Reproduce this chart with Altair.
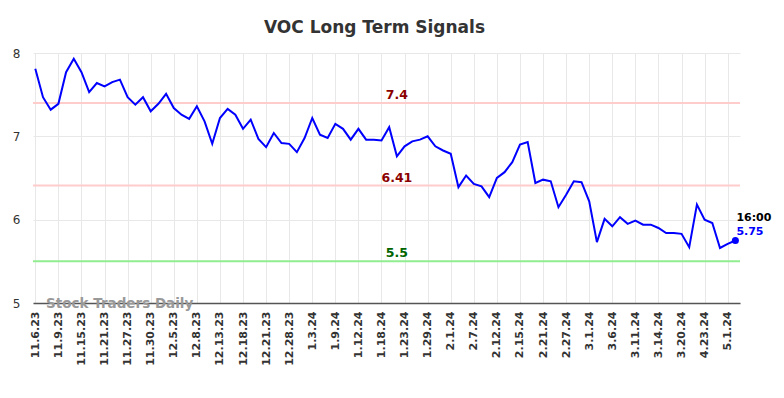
import altair as alt
import pandas as pd

tick_labels = ["11.6.23", "11.9.23", "11.15.23", "11.21.23", "11.27.23", "11.30.23",
               "12.5.23", "12.8.23", "12.13.23", "12.18.23", "12.21.23", "12.28.23",
               "1.3.24", "1.9.24", "1.12.24", "1.18.24", "1.23.24", "1.29.24",
               "2.1.24", "2.7.24", "2.12.24", "2.15.24", "2.21.24", "2.27.24",
               "3.1.24", "3.6.24", "3.11.24", "3.14.24", "3.20.24", "4.23.24", "5.1.24"]

prices = [7.81, 7.47, 7.32, 7.39, 7.77, 7.93, 7.77, 7.53, 7.64, 7.60,
          7.65, 7.68, 7.47, 7.38, 7.47, 7.30, 7.39, 7.51, 7.34, 7.26,
          7.21, 7.36, 7.18, 6.91, 7.22, 7.33, 7.26, 7.09, 7.20, 6.97,
          6.87, 7.04, 6.92, 6.91, 6.81, 6.98, 7.22, 7.02, 6.98, 7.15,
          7.09, 6.96, 7.09, 6.96, 6.96, 6.95, 7.11, 6.76, 6.88, 6.94,
          6.96, 7.00, 6.88, 6.83, 6.79, 6.39, 6.53, 6.43, 6.40, 6.27,
          6.50, 6.57, 6.69, 6.90, 6.93, 6.44, 6.48, 6.46, 6.15, 6.30,
          6.46, 6.45, 6.22, 5.73, 6.01, 5.92, 6.03, 5.95, 5.99, 5.94,
          5.94, 5.90, 5.84, 5.84, 5.83, 5.67, 6.18, 6.00, 5.96, 5.66,
          5.71, 5.75]

signal_values = [7.4, 6.41, 5.5]
signal_labels = ["7.4", "6.41", "5.5"]
signal_line_colors = ["#ffcccc", "#ffcccc", "#90ee90"]
signal_text_colors = ["#8b0000", "#8b0000", "#006400"]

last_time = "16:00"

df = pd.DataFrame({"i": list(range(len(prices))), "price": prices})
sig = pd.DataFrame({"i": [47] * len(signal_values), "price": signal_values,
                    "lab": signal_labels, "lc": signal_line_colors,
                    "tc": signal_text_colors})
last = pd.DataFrame({"i": [len(prices) - 1], "price": [prices[-1]],
                     "t": [last_time], "p": [f"{prices[-1]:.2f}"]})
wm = pd.DataFrame({"i": [1.4], "price": [5.0], "t": ["Stock Traders Daily"]})

label_arr = "[" + ",".join(f"'{l}'" for l in tick_labels) + "]"

xscale = alt.Scale(domain=[-0.3, 91.6], nice=False, zero=False)
yscale = alt.Scale(domain=[5, 8], nice=False, zero=False)

x_axis = alt.Axis(values=list(range(0, len(prices), 3)),
                  labelExpr=f"{label_arr}[round(datum.value/3)]",
                  labelAngle=270, labelAlign="right", labelBaseline="middle",
                  labelFontWeight="bold", labelFontSize=11, labelColor="#333",
                  labelPadding=8, ticks=False, domainColor="#555",
                  domainWidth=1.5, grid=True, gridColor="#e8e8e8", title=None,
                  labelFont="DejaVu Sans", labelOverlap=False, labelSeparation=0,
                  labelBound=False, labelFlush=False)
y_axis = alt.Axis(values=[5, 6, 7, 8], format="d", grid=True, gridColor="#e8e8e8",
                  domain=False, ticks=False, labelPadding=13, labelFontSize=12,
                  labelColor="#333", title=None, labelFont="DejaVu Sans",
                  labelOverlap=False)


def X():
    return alt.X("i:Q", scale=xscale, axis=x_axis)


def Y():
    return alt.Y("price:Q", scale=yscale, axis=y_axis)


line = alt.Chart(df).mark_line(color="#0000ff", strokeWidth=2).encode(x=X(), y=Y())

rules = alt.Chart(sig).mark_rule(strokeWidth=2).encode(
    y=Y(),
    color=alt.Color("lc:N", scale=None),
)

rule_text = alt.Chart(sig).mark_text(fontWeight="bold", fontSize=12.5,
                                      baseline="bottom", dy=-1,
                                      font="DejaVu Sans").encode(
    x=X(), y=Y(), text="lab:N", color=alt.Color("tc:N", scale=None),
)

watermark = alt.Chart(wm).mark_text(fontWeight="bold", fontSize=13.5, align="left",
                                     baseline="middle", dy=1, color="#999",
                                     font="DejaVu Sans").encode(
    x=X(), y=Y(), text="t:N",
)

dot = alt.Chart(last).mark_circle(size=50, color="#0000ff", opacity=1).encode(
    x=X(), y=Y())
t1 = alt.Chart(last).mark_text(fontWeight="bold", fontSize=11, align="left",
                               baseline="middle", dx=1, dy=-23, color="#000",
                               font="DejaVu Sans").encode(x=X(), y=Y(), text="t:N")
t2 = alt.Chart(last).mark_text(fontWeight="bold", fontSize=11, align="left",
                               baseline="middle", dx=1, dy=-9, color="#0000ff",
                               font="DejaVu Sans").encode(x=X(), y=Y(), text="p:N")

chart = alt.layer(rules, watermark, line, rule_text, dot, t1, t2).properties(
    width=707, height=250,
    title=alt.TitleParams("VOC Long Term Signals", fontSize=17, fontWeight="bold",
                          color="#333", font="DejaVu Sans", dx=-12, offset=10),
    autosize=alt.AutoSizeParams(type="none"),
    padding={"left": 25, "top": 45, "right": 36, "bottom": 87},
).configure_view(stroke=None).configure_axis(labelOverlap=False)

chart.save("out.html", embed_options={"renderer": "svg", "actions": False})
